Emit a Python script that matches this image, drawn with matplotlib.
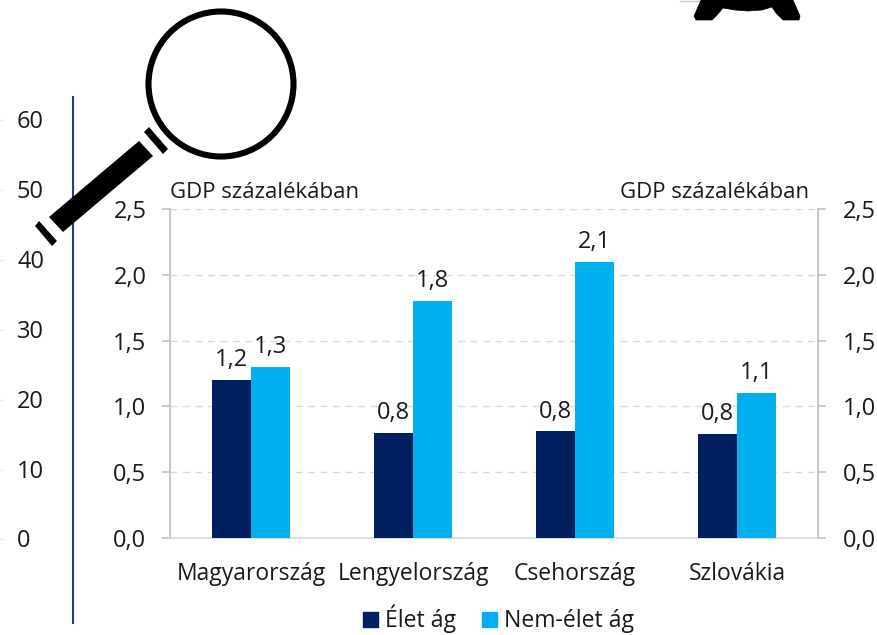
import numpy as np
import matplotlib
matplotlib.use("Agg")
import matplotlib.pyplot as plt
from matplotlib.patches import Circle, Polygon, Patch

plt.rcParams['font.family'] = ['Open Sans', 'DejaVu Sans']

# data
countries = ["Magyarország", "Lengyelország", "Csehország", "Szlovákia"]
elet = [1.2, 0.8, 0.81, 0.79]
nem_elet = [1.3, 1.8, 2.1, 1.1]
elet_labels = ["1,2", "0,8", "0,8", "0,8"]
nem_elet_labels = ["1,3", "1,8", "2,1", "1,1"]
y_ticks = [0, 0.5, 1.0, 1.5, 2.0, 2.5]
y_tick_labels = ["0,0", "0,5", "1,0", "1,5", "2,0", "2,5"]
left_stray_labels = ["60", "50", "40", "30", "20", "10", "0"]

W, H = 877, 635
navy = "#002060"
cyan = "#00B0F0"
grey = "#BFBFBF"
txt = "#1A1A1A"
fs = 17

fig = plt.figure(figsize=(W / 100, H / 100), dpi=100)

# main chart
ax = fig.add_axes([170 / W, 1 - 538 / H, 648 / W, 329 / H])
x = np.arange(len(countries))
w = 0.24
ax.bar(x - w / 2, elet, w, color=navy, zorder=3)
ax.bar(x + w / 2, nem_elet, w, color=cyan, zorder=3)
ax.set_xlim(-0.5, 3.5)
ax.set_ylim(0, 2.5)
ax.set_yticks(y_ticks)
ax.set_yticklabels(y_tick_labels, fontsize=fs, color=txt)
ax.set_xticks(x)
ax.set_xticklabels(countries, fontsize=16.5, color=txt)
ax.tick_params(axis='x', length=0, pad=17.5)
ax.tick_params(axis='y', length=6, color=grey, width=1.1, pad=11)
ax.grid(axis='y', color="#D9D9D9", linestyle=(0, (5, 4)), linewidth=1, zorder=0)
ax.spines['top'].set_visible(False)
ax.spines['left'].set_color(grey)
ax.spines['bottom'].set_color("#D9D9D9")
ax.spines['right'].set_color(grey)
for s in ['left', 'right', 'bottom']:
    ax.spines[s].set_linewidth(1.2)

# right axis repeats the left one
ax2 = ax.twinx()
ax2.set_ylim(0, 2.5)
ax2.set_yticks(y_ticks)
ax2.set_yticklabels(y_tick_labels, fontsize=fs, color=txt)
ax2.tick_params(axis='y', length=6, color=grey, width=1.1, pad=12)
for s in ['top', 'left', 'bottom', 'right']:
    ax2.spines[s].set_visible(False)

# value labels
for i in range(len(countries)):
    ax.text(x[i] - w / 2, elet[i] + 0.06, elet_labels[i], ha='center', va='bottom', fontsize=fs, color=txt, zorder=4)
    ax.text(x[i] + w / 2, nem_elet[i] + 0.06, nem_elet_labels[i], ha='center', va='bottom', fontsize=fs, color=txt, zorder=4)

fig.text(170 / W, 1 - 192 / H, "GDP százalékában", fontsize=16, color=txt, ha='left', va='center')
fig.text(809 / W, 1 - 193 / H, "GDP százalékában", fontsize=16, color=txt, ha='right', va='center')

# kept a little above the reference so the descenders are not cut by the edge
leg = fig.legend(handles=[Patch(color=navy, label="Élet ág"), Patch(color=cyan, label="Nem-élet ág")],
                 loc='center', bbox_to_anchor=(498.5 / W, 1 - 619 / H), ncol=2, frameon=False,
                 fontsize=16.6, handlelength=0.64, handleheight=0.64, handletextpad=0.3, columnspacing=1.15,
                 labelcolor=txt, borderpad=0)

# overlay in picture pixels for the pasted pieces
ov = fig.add_axes([0, 0, 1, 1], zorder=5)
ov.set_xlim(0, W)
ov.set_ylim(H, 0)
ov.axis('off')
ov.patch.set_alpha(0)

# cropped axis from the slide behind
ov.plot([73, 73], [97, 623], color="#1F3F7F", lw=1.5, zorder=1)
for lab, py in zip(left_stray_labels, [120, 190, 260, 330, 400, 470, 539]):
    ov.text(17, py + 2, lab, ha='left', va='center', fontsize=fs, color=txt)
    ov.plot([0, 1.5], [py, py], color="#E6E6E6", lw=1, zorder=1)

# magnifier
ov.add_patch(Circle((221, 84), 72.5, fill=False, ec='black', lw=4.4, zorder=3))
ov.add_patch(Polygon([(139, 141), (153, 156), (63, 232), (49, 217)], fc='black', ec='none', zorder=3))
ov.add_patch(Polygon([(149, 127), (168, 149), (163, 154), (144, 132)], fc='black', ec='none', zorder=3))
ov.add_patch(Polygon([(39, 221), (57, 241), (52, 246), (35, 226)], fc='black', ec='none', zorder=3))

# turtle cut by the top edge
ov.add_patch(Polygon([(702, -2), (694, 16), (696, 20), (712, 20), (717, 15), (723, 8), (735, 10), (748, 11),
                      (762, 10), (772, 7), (776, 13), (783, 20), (799, 20), (800, 16), (792, -2)],
                     fc='black', ec='black', lw=0.5, joinstyle='round', zorder=3))
ov.plot([680, 702], [0.5, 0.5], color="#C8C8C8", lw=1, zorder=2)

fig.savefig("out.png", dpi=100)
